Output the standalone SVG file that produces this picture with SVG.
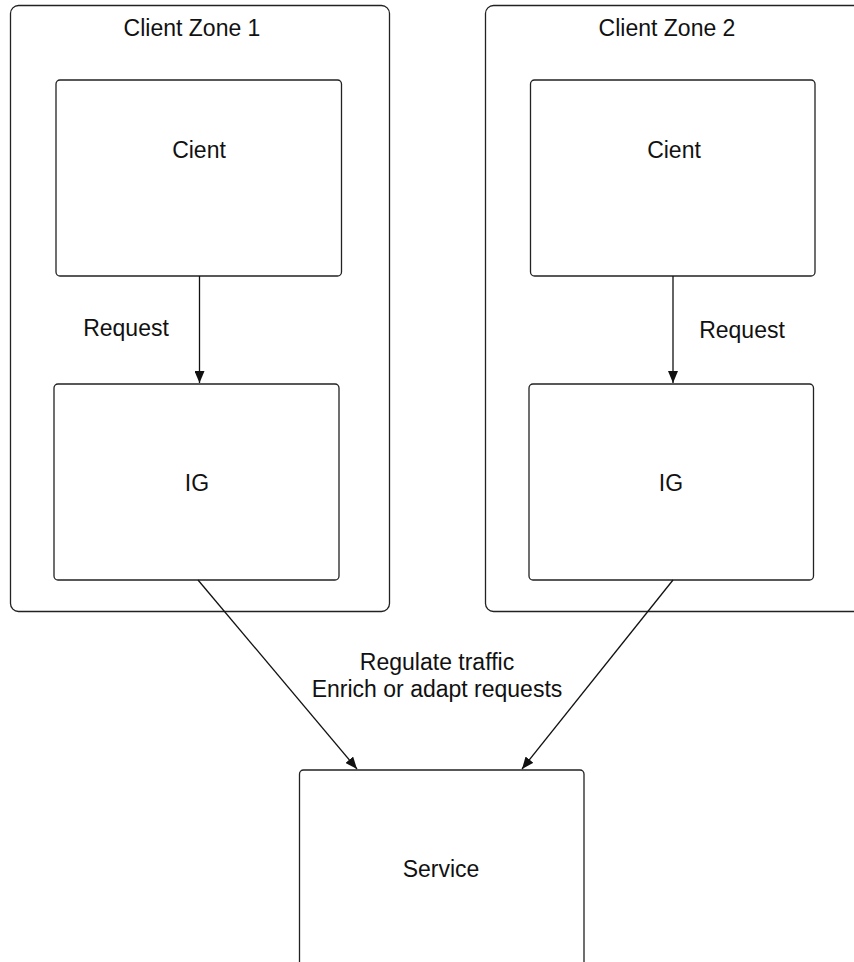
<svg xmlns="http://www.w3.org/2000/svg" width="854" height="962" viewBox="0 0 854 962">
  <style>
    .zone { fill: #ffffff; stroke: #222222; stroke-width: 1.3; }
    .box { fill: #ffffff; stroke: #222222; stroke-width: 1.3; }
    .lbl { font-family: "Liberation Sans", Arial, sans-serif; font-size: 23px; fill: #111111; text-anchor: middle; }
    .conn { stroke: #111111; stroke-width: 1.3; fill: none; marker-end: url(#arrow); }
  </style>
  <defs>
    <marker id="arrow" markerUnits="userSpaceOnUse" markerWidth="12" markerHeight="10" refX="12" refY="5" orient="auto">
      <path d="M0,0 L12,5 L0,10 z" fill="#111111"/>
    </marker>
  </defs>
  <rect width="854" height="962" fill="#ffffff"/>

  <g id="zone1">
    <rect class="zone" x="10.5" y="5.5" width="379" height="606" rx="8"/>
    <text class="lbl" x="192" y="36">Client Zone 1</text>
  </g>
  <g id="zone2">
    <rect class="zone" x="485.5" y="5.5" width="379" height="606" rx="8"/>
    <text class="lbl" x="667" y="36">Client Zone 2</text>
  </g>

  <g id="client1">
    <rect class="box" x="56" y="80" width="285.5" height="196" rx="4"/>
    <text class="lbl" x="199" y="158">Cient</text>
  </g>
  <g id="ig1">
    <rect class="box" x="54" y="384" width="285" height="196" rx="4"/>
    <text class="lbl" x="197" y="491">IG</text>
  </g>
  <g id="client2">
    <rect class="box" x="530.5" y="80" width="284.5" height="196" rx="4"/>
    <text class="lbl" x="674" y="158">Cient</text>
  </g>
  <g id="ig2">
    <rect class="box" x="529" y="384" width="284.5" height="196" rx="4"/>
    <text class="lbl" x="671" y="491">IG</text>
  </g>
  <g id="service">
    <rect class="box" x="299.5" y="770" width="284.5" height="240" rx="4"/>
    <text class="lbl" x="441" y="877">Service</text>
  </g>

  <g id="connectors">
    <line class="conn" x1="199.5" y1="276" x2="199.5" y2="383"/>
    <line class="conn" x1="673" y1="276" x2="673" y2="383"/>
    <line class="conn" x1="198" y1="580" x2="357" y2="769"/>
    <line class="conn" x1="673" y1="580" x2="522" y2="769"/>
    <text class="lbl" x="126" y="336">Request</text>
    <text class="lbl" x="742" y="338">Request</text>
    <text class="lbl" x="437" y="670">Regulate traffic</text>
    <text class="lbl" x="437" y="697">Enrich or adapt requests</text>
  </g>
</svg>
